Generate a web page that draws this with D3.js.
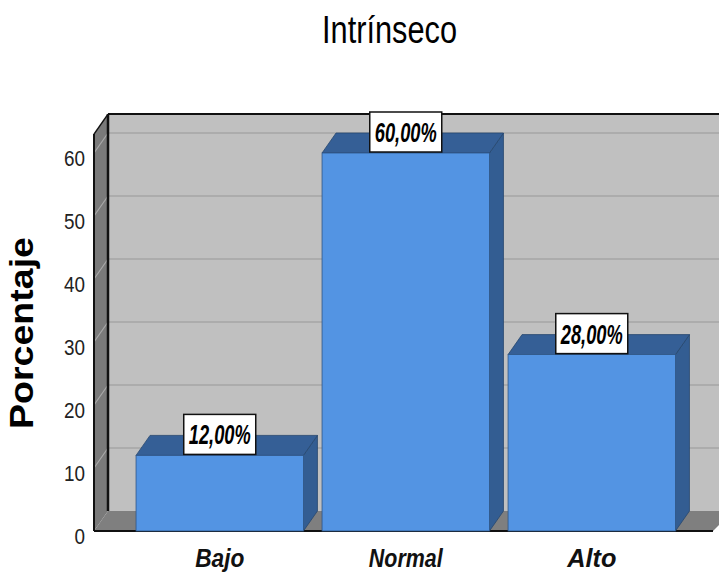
<!DOCTYPE html>
<html>
<head>
<meta charset="utf-8">
<script src="https://cdn.jsdelivr.net/npm/d3@7"></script>
<style>
  html, body { margin: 0; padding: 0; background: #fff; }
  svg { display: block; }
  .narrow { font-family: "Liberation Sans Narrow", "Liberation Sans", Arial, sans-serif; }
</style>
</head>
<body>
<svg id="chart" width="719" height="572"></svg>
<script>
// Data
const categories = ["Bajo", "Normal", "Alto"];
const values = [12, 60, 28];
const valueLabels = ["12,00%", "60,00%", "28,00%"];
const yTicks = [0, 10, 20, 30, 40, 50, 60];
const chartTitle = "Intrínseco";
const yTitle = "Porcentaje";

const svg = d3.select("#chart");
const W = 719, H = 572;

// 3D depth offset of the box
const dx = 14, dy = 20;
const frontLeft = 94, frontRight = 705;
const baseY = 531;

const y = d3.scaleLinear().domain([0, 63]).range([baseY, baseY - 63 * 6.3]);
const yBack = v => y(v) - dy;

const x = d3.scaleBand()
  .domain(categories)
  .range([frontLeft, 717.5])
  .paddingInner(0.1)
  .paddingOuter(0.226);

// Back wall
svg.append("rect")
  .attr("x", frontLeft + dx).attr("y", yBack(63))
  .attr("width", W - (frontLeft + dx)).attr("height", yBack(0) - yBack(63))
  .attr("fill", "#c0c0c0");

// Back wall gridlines
svg.append("g").selectAll("line").data(yTicks.filter(d => d > 0)).join("line")
  .attr("x1", frontLeft + dx).attr("x2", W)
  .attr("y1", d => yBack(d)).attr("y2", d => yBack(d))
  .attr("stroke", "#acacac").attr("stroke-width", 2);

// Floor
svg.append("path")
  .attr("d", `M${frontLeft},${y(0)} L${frontLeft + dx},${yBack(0)} L${W},${yBack(0)} L${W},${y(0) - 6} L${frontRight + 8},${y(0)} Z`)
  .attr("fill", "#7f7f7f");

// Left wall
svg.append("path")
  .attr("d", `M${frontLeft},${y(0)} L${frontLeft},${y(63)} L${frontLeft + dx},${yBack(63)} L${frontLeft + dx},${yBack(0)} Z`)
  .attr("fill", "#7a7a7a");

// Left wall slanted gridlines
svg.append("g").selectAll("line").data(yTicks.filter(d => d > 0)).join("line")
  .attr("x1", frontLeft).attr("x2", frontLeft + dx)
  .attr("y1", d => y(d)).attr("y2", d => yBack(d))
  .attr("stroke", "#a9a9a9").attr("stroke-width", 1.2);

// Frame edges
svg.append("line").attr("x1", frontLeft + dx).attr("x2", W)
  .attr("y1", yBack(63)).attr("y2", yBack(63))
  .attr("stroke", "#111").attr("stroke-width", 2);
svg.append("line").attr("x1", frontLeft + dx).attr("x2", frontLeft + dx)
  .attr("y1", yBack(63)).attr("y2", yBack(0))
  .attr("stroke", "#111").attr("stroke-width", 2.5);
svg.append("line").attr("x1", frontLeft).attr("x2", frontLeft + dx)
  .attr("y1", y(63)).attr("y2", yBack(63))
  .attr("stroke", "#111").attr("stroke-width", 1.5);
svg.append("line").attr("x1", frontLeft).attr("x2", frontLeft)
  .attr("y1", y(63)).attr("y2", y(0))
  .attr("stroke", "#111").attr("stroke-width", 2);
svg.append("line").attr("x1", frontLeft).attr("x2", frontRight + 8)
  .attr("y1", y(0)).attr("y2", y(0))
  .attr("stroke", "#111").attr("stroke-width", 2);

// Bars
const bars = svg.append("g").selectAll("g").data(categories).join("g");
bars.each(function(c, i) {
  const g = d3.select(this);
  const x0 = x(c), x1 = x(c) + x.bandwidth();
  const yt = y(values[i]), yb = y(0);
  g.append("path")
    .attr("d", `M${x1},${yt} L${x1 + dx},${yt - dy} L${x1 + dx},${yb - dy} L${x1},${yb} Z`)
    .attr("fill", "#335d92").attr("stroke", "#27486f").attr("stroke-width", 0.8);
  g.append("path")
    .attr("d", `M${x0},${yt} L${x0 + dx},${yt - dy} L${x1 + dx},${yt - dy} L${x1},${yt} Z`)
    .attr("fill", "#355f96").attr("stroke", "#27486f").attr("stroke-width", 0.8);
  g.append("rect")
    .attr("x", x0).attr("y", yt).attr("width", x1 - x0).attr("height", yb - yt)
    .attr("fill", "#5394e3").attr("stroke", "#2f5687").attr("stroke-width", 0.8);
});

// Value labels
const lbl = svg.append("g").selectAll("g").data(categories).join("g")
  .attr("transform", (c, i) => `translate(${x(c) + x.bandwidth() / 2},${y(values[i])})`);
lbl.append("rect")
  .attr("x", -36).attr("y", -41).attr("width", 72).attr("height", 40)
  .attr("fill", "#fff").attr("stroke", "#111").attr("stroke-width", 1.5);
lbl.append("text")
  .attr("class", "narrow")
  .attr("x", 0).attr("y", -11)
  .attr("text-anchor", "middle")
  .attr("font-size", 27).attr("font-weight", "bold").attr("font-style", "italic")
  .attr("textLength", 62).attr("lengthAdjust", "spacingAndGlyphs")
  .attr("fill", "#000")
  .text((c, i) => valueLabels[i]);

// Y axis tick labels
const yAxis = d3.axisLeft(y).tickValues(yTicks).tickSize(0).tickPadding(0).tickFormat(d3.format("d"));
const ya = svg.append("g").attr("transform", "translate(85,5)").call(yAxis);
ya.select(".domain").remove();
ya.selectAll("text")
  .attr("class", "narrow")
  .attr("font-size", 22).attr("fill", "#222")
  .attr("textLength", d => String(d).length * 10.5)
  .attr("lengthAdjust", "spacingAndGlyphs");

// X axis category labels
svg.append("g").selectAll("text").data(categories).join("text")
  .attr("class", "narrow")
  .attr("x", c => x(c) + x.bandwidth() / 2).attr("y", 567)
  .attr("text-anchor", "middle")
  .attr("font-size", 25).attr("font-weight", "bold").attr("font-style", "italic")
  .attr("textLength", c => c.length * 12.3)
  .attr("lengthAdjust", "spacingAndGlyphs")
  .attr("fill", "#111")
  .text(c => c);

// Title
svg.append("text")
  .attr("class", "narrow")
  .attr("x", 389.5).attr("y", 43)
  .attr("text-anchor", "middle")
  .attr("font-size", 38)
  .attr("textLength", 135).attr("lengthAdjust", "spacingAndGlyphs")
  .attr("fill", "#000")
  .text(chartTitle);

// Y title
svg.append("text")
  .attr("transform", "translate(33,333) rotate(-90)")
  .attr("text-anchor", "middle")
  .attr("font-family", "Arial, 'Liberation Sans', sans-serif")
  .attr("font-size", 33).attr("font-weight", "bold")
  .attr("textLength", 192).attr("lengthAdjust", "spacingAndGlyphs")
  .attr("fill", "#000")
  .text(yTitle);
</script>
</body>
</html>
